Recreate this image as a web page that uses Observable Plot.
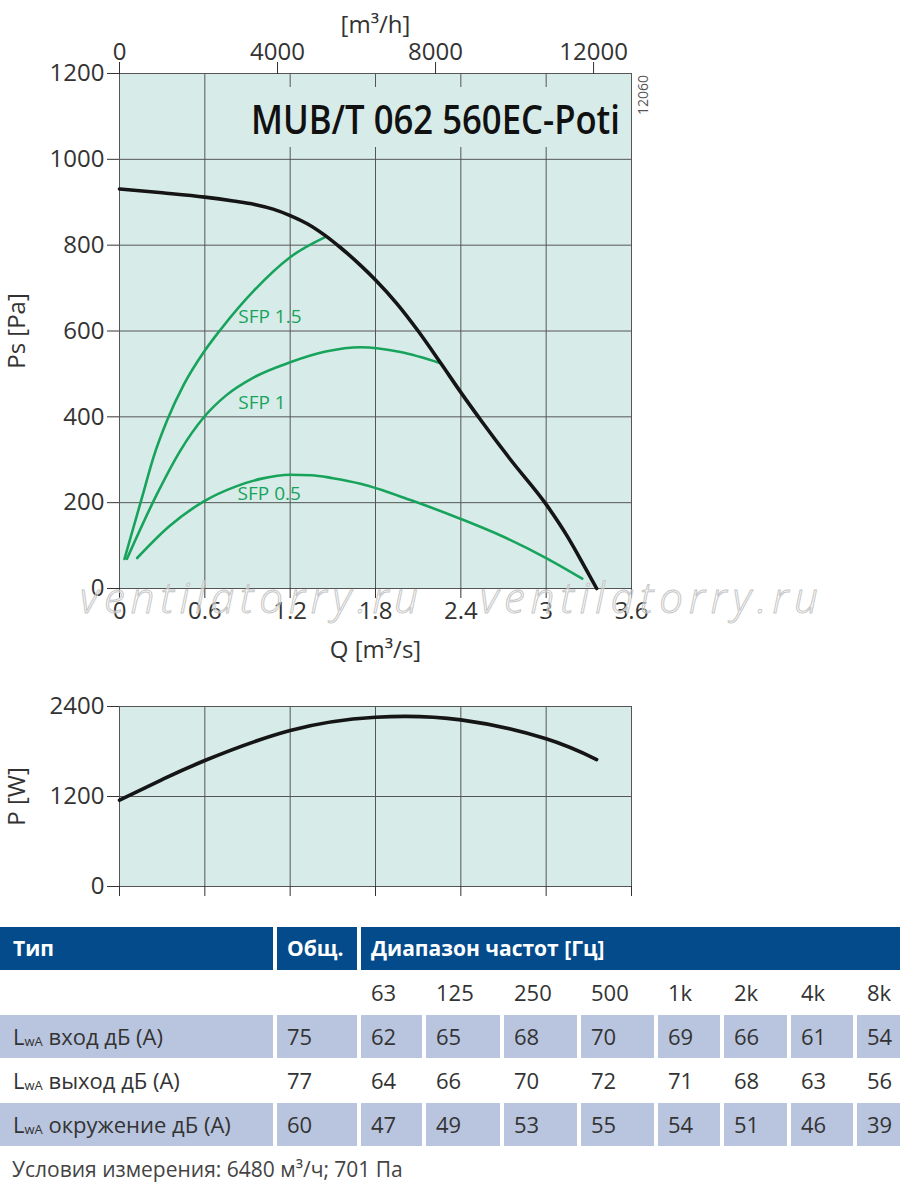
<!DOCTYPE html>
<html>
<head>
<meta charset="utf-8">
<script src="https://cdn.jsdelivr.net/npm/d3@7"></script>
<script src="https://cdn.jsdelivr.net/npm/@observablehq/plot@0.6"></script>
<style>
  body { margin: 0; background: #fff; width: 900px; overflow: hidden; font-family: "Open Sans", sans-serif; color: #333; }
  #main { position: relative; width: 900px; height: 680px; }
  #main svg.overlay { position: absolute; left: 0; top: 0; pointer-events: none; }
  #power { width: 900px; height: 247px; }
  .tbl { display: grid; grid-template-columns: 273px 80px 61px 74px 73px 73px 62px 63px 62px 43px; column-gap: 4px; row-gap: 1px; width: 900px; }
  .cell { height: 43px; line-height: 43px; padding-left: 10px; font-size: 22px; white-space: nowrap; overflow: hidden; color: #333; }
  .cell.first { padding-left: 13px; }
  .hd { background: #034b8b; color: #fff; font-weight: 700; font-size: 21px; }
  .shade { background: #b9c5de; }
  .sub { font-size: 13px; vertical-align: -1px; }
  #footer { padding-left: 12px; font-size: 21px; line-height: 46px; color: #444; }
</style>
</head>
<body>
<div id="main"></div>
<div id="power"></div>
<div id="table"></div>
<div id="footer"></div>
<script>
// ---------- data ----------
const Q_TICKS = [0, 0.6, 1.2, 1.8, 2.4, 3, 3.6];
const PS_TICKS = [0, 200, 400, 600, 800, 1000, 1200];
const FLOW_H_TICKS = [0, 4000, 8000, 12000];
const P_TICKS = [0, 1200, 2400];

// fan curve Ps vs Q
const fanQ  = [0, 0.3, 0.6, 0.8, 0.95, 1.08, 1.2, 1.32, 1.44, 1.555, 1.695, 1.8, 1.95, 2.1, 2.257, 2.4, 2.55, 2.75, 3.0, 3.148, 3.265, 3.355];
const fanPs = [931, 922, 912, 903, 895, 884, 869, 850, 824, 794, 753, 719, 664, 600, 526, 457, 388, 300, 196, 122, 54, 0];

// SFP curves
const sfp15Q  = [0.035, 0.159, 0.241, 0.335, 0.452, 0.593, 0.71, 0.945, 1.2, 1.442];
const sfp15Ps = [69, 213, 308, 392, 475, 551, 603, 694, 772, 818];
const sfp1Q   = [0.052, 0.265, 0.429, 0.593, 0.75, 0.945, 1.2, 1.45, 1.695, 1.976, 2.257];
const sfp1Ps  = [69, 221, 322, 399, 450, 492, 527, 552, 562, 551, 525];
const sfp05Q  = [0.124, 0.35, 0.593, 0.82, 1.0, 1.2, 1.35, 1.5, 1.695, 2.046, 2.4, 2.703, 3.0, 3.254];
const sfp05Ps = [71, 145, 203, 238, 256, 265, 264, 257, 244, 206, 162, 120, 71, 23];

const sfpLabelText = ["SFP 1.5", "SFP 1", "SFP 0.5"];
const sfpLabelQ    = [0.835, 0.835, 0.83];
const sfpLabelPs   = [634, 433, 221];

// power curve
const powQ = [0, 0.3, 0.6, 1.2, 1.8, 2.4, 3.0, 3.355];
const powP = [1150, 1425, 1680, 2080, 2257, 2222, 1969, 1693];

// noise table
const freqLabels = ["63", "125", "250", "500", "1k", "2k", "4k", "8k"];
const rowNames = ["вход дБ (А)", "выход дБ (А)", "окружение дБ (А)"];
const rowTotals = [75, 77, 60];
const rowInlet   = [62, 65, 68, 70, 69, 66, 61, 54];
const rowOutlet  = [64, 66, 70, 72, 71, 68, 63, 56];
const rowSurround = [47, 49, 53, 55, 54, 51, 46, 39];

// ---------- build ----------
const BG = "#d7ece8";
const GRID = "#555";
const GREEN = "#17a35c";

const zip = (xs, ys, kx, ky) => xs.map((v, i) => ({[kx]: v, [ky]: ys[i]}));
const fan = zip(fanQ, fanPs, "q", "ps");
const sfp15 = zip(sfp15Q, sfp15Ps, "q", "ps");
const sfp1 = zip(sfp1Q, sfp1Ps, "q", "ps");
const sfp05 = zip(sfp05Q, sfp05Ps, "q", "ps");
const sfpLabels = sfpLabelText.map((t, i) => ({label: t, q: sfpLabelQ[i], ps: sfpLabelPs[i]}));
const power = zip(powQ, powP, "q", "p");

const style = {fontFamily: "'Open Sans', sans-serif", fontSize: "24px", color: "#333", background: "transparent", overflow: "visible"};
const fmt = d => String(d);

const mainPlot = Plot.plot({
  width: 900, height: 680,
  marginTop: 73, marginBottom: 92, marginLeft: 119, marginRight: 269,
  x: {domain: [0, 3.6]},
  y: {domain: [0, 1200]},
  style,
  marks: [
    Plot.frame({fill: BG, stroke: "none"}),
    Plot.gridX(Q_TICKS, {stroke: GRID, strokeOpacity: 1}),
    Plot.gridY(PS_TICKS, {stroke: GRID, strokeOpacity: 1}),
    Plot.frame({stroke: GRID}),
    Plot.axisY(PS_TICKS, {tickSize: 12, tickPadding: 3, tickFormat: fmt, label: null, fontSize: 24}),
    Plot.axisX(Q_TICKS, {anchor: "bottom", tickSize: 10, tickPadding: 3, tickFormat: fmt, label: null, fontSize: 24}),
    Plot.axisX(FLOW_H_TICKS.map(v => v / 3600), {anchor: "top", tickSize: 12, tickPadding: 2, tickFormat: d => String(Math.round(d * 3600)), label: null, fontSize: 24}),
    Plot.line(sfp15, {x: "q", y: "ps", stroke: GREEN, strokeWidth: 2.6, curve: "monotone-x"}),
    Plot.line(sfp1, {x: "q", y: "ps", stroke: GREEN, strokeWidth: 2.6, curve: "monotone-x"}),
    Plot.line(sfp05, {x: "q", y: "ps", stroke: GREEN, strokeWidth: 2.6, curve: "monotone-x"}),
    Plot.line(fan, {x: "q", y: "ps", stroke: "#151515", strokeWidth: 3.6, curve: "monotone-x"}),
    Plot.text(sfpLabels, {x: "q", y: "ps", text: "label", textAnchor: "start", fill: GREEN, fontSize: 19}),
    Plot.text(["Ps [Pa]"], {text: d => d, frameAnchor: "left", textAnchor: "middle", lineAnchor: "middle", rotate: -90, dx: -102, fontSize: 24}),
    Plot.text(["Q [m³/s]"], {text: d => d, frameAnchor: "bottom", lineAnchor: "middle", dy: 62, fontSize: 24}),
    Plot.text(["[m³/h]"], {text: d => d, frameAnchor: "top", lineAnchor: "middle", dy: -48, fontSize: 24})
  ]
});
document.getElementById("main").append(mainPlot);

// overlay: title box, drawing number, watermark
const ns = "http://www.w3.org/2000/svg";
const ov = document.createElementNS(ns, "svg");
ov.setAttribute("class", "overlay");
ov.setAttribute("width", 900);
ov.setAttribute("height", 680);
ov.innerHTML = `
  <rect x="245" y="87" width="385" height="60" fill="${BG}"/>
  <text x="251" y="134" font-family="'Open Sans', sans-serif" font-size="40" font-weight="600" fill="#111" textLength="369" lengthAdjust="spacingAndGlyphs">MUB/T 062 560EC-Poti</text>
  <text transform="translate(648,95) rotate(-90)" text-anchor="middle" font-family="'Open Sans', sans-serif" font-size="14" fill="#555">12060</text>
  <g font-family="'Open Sans', sans-serif" font-style="italic" font-weight="300" font-size="42" fill="rgba(255,255,255,0.35)" stroke="#c6c6c6" stroke-width="1">
    <text x="80" y="613" textLength="338" lengthAdjust="spacing">ventilatorry.ru</text>
    <text x="480" y="613" textLength="338" lengthAdjust="spacing">ventilatorry.ru</text>
  </g>`;
document.getElementById("main").append(ov);

const powerPlot = Plot.plot({
  width: 900, height: 247,
  marginTop: 26, marginBottom: 41, marginLeft: 119, marginRight: 269,
  x: {domain: [0, 3.6]},
  y: {domain: [0, 2400]},
  style,
  marks: [
    Plot.frame({fill: BG, stroke: "none"}),
    Plot.gridX(Q_TICKS, {stroke: GRID, strokeOpacity: 1}),
    Plot.gridY(P_TICKS, {stroke: GRID, strokeOpacity: 1}),
    Plot.frame({stroke: GRID}),
    Plot.axisY(P_TICKS, {tickSize: 12, tickPadding: 3, tickFormat: fmt, label: null, fontSize: 24}),
    Plot.axisX(Q_TICKS, {anchor: "bottom", tickSize: 10, tickFormat: () => "", label: null}),
    Plot.line(power, {x: "q", y: "p", stroke: "#151515", strokeWidth: 3.6, curve: "natural"}),
    Plot.text(["P [W]"], {text: d => d, frameAnchor: "left", textAnchor: "middle", lineAnchor: "middle", rotate: -90, dx: -102, fontSize: 24})
  ]
});
document.getElementById("power").append(powerPlot);

// table
const lwa = `L<span class="sub">wA</span> `;
let html = `<div class="tbl">`;
html += `<div class="cell first hd">Тип</div><div class="cell hd">Общ.</div><div class="cell hd" style="grid-column: span 8">Диапазон частот [Гц]</div>`;
html += `<div class="cell first"></div><div class="cell"></div>` + freqLabels.map(f => `<div class="cell">${f}</div>`).join("");
const rows = [rowInlet, rowOutlet, rowSurround];
rows.forEach((vals, r) => {
  const sh = r % 2 === 0 ? " shade" : "";
  html += `<div class="cell first${sh}">${lwa}${rowNames[r]}</div><div class="cell${sh}">${rowTotals[r]}</div>`;
  html += vals.map(v => `<div class="cell${sh}">${v}</div>`).join("");
});
html += `</div>`;
document.getElementById("table").innerHTML = html;
document.getElementById("footer").textContent = "Условия измерения: 6480 м³/ч; 701 Па";
</script>
</body>
</html>
